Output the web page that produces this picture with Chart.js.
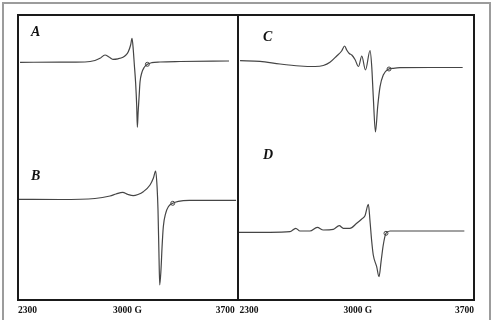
<!DOCTYPE html>
<html>
<head>
<meta charset="utf-8">
<script src="https://cdn.jsdelivr.net/npm/chart.js@4.4.0/dist/chart.umd.min.js"></script>
<style>
  html, body { margin: 0; padding: 0; background: #fff; width: 498px; height: 320px; overflow: hidden; position: relative; }
  .abs { position: absolute; }
  #outer { left: 2px; top: 2px; width: 485px; height: 330px; border: 2px solid #9c9c9c; box-sizing: content-box; }
  #frame { left: 17px; top: 14px; width: 454px; height: 283px; border: 2px solid #1a1a1a; }
  #divider { left: 237px; top: 15px; width: 2px; height: 285px; background: #1a1a1a; }
  .letter { font-family: 'Liberation Serif', serif; font-weight: bold; font-style: italic; font-size: 14px; line-height: 14px; color: #111; }
  canvas { position: absolute; }
</style>
</head>
<body>
<div id="outer" class="abs"></div>
<canvas id="left" width="231" height="304" style="left:12px; top:15px;"></canvas>
<canvas id="right" width="249" height="304" style="left:231px; top:15px;"></canvas>
<div id="frame" class="abs"></div>
<div id="divider" class="abs"></div>
<div class="abs letter" id="lA" style="left:31px; top:25px;"></div>
<div class="abs letter" id="lB" style="left:31px; top:169px;"></div>
<div class="abs letter" id="lC" style="left:263px; top:30px;"></div>
<div class="abs letter" id="lD" style="left:263px; top:148px;"></div>
<script>
// ---- data (field in G, signal in arbitrary units relative to baseline) ----
const panelLetters = ['A', 'B', 'C', 'D'];
const tickValues = [2300, 3000, 3700];
const leftTickLabels = ['2300', '3000 G', '3700 '];
const rightTickLabels = [' 2300', '  3000 G', '3700'];

const fieldA = [2313,2569,2728,2792,2824,2856,2882,2907,2939,2971,2990,3005,3020,3029,3037,3043,3052,3059,3063,3068,3074,3080,3091,3106,3127,3155,3208,3336,3649];
const signalA = [-0.3,-0.2,0,1.5,3.7,7,5,2.7,3.2,4.7,7,10.3,17,23.7,12,-1.3,-21,-44.5,-65.3,-50,-35,-20,-11,-5.5,-2.3,-0.7,0,0.5,1];

const fieldB = [2306,2569,2792,2888,2927,2969,3003,3037,3067,3101,3144,3165,3180,3189,3195,3201,3206,3214,3221,3229,3244,3261,3289,3325,3395,3694];
const signalB = [0.2,0,1,3.5,5.5,7.2,5,3.8,5,7.8,14.5,21.2,28.5,12.8,-10.5,-53.8,-85.5,-70.5,-47.2,-27.2,-13.8,-7.2,-3.8,-1.8,-0.8,-0.8];

const fieldC = [2318,2436,2554,2672,2761,2810,2849,2889,2918,2936,2948,2963,2978,2997,3018,3037,3059,3086,3096,3105,3118,3131,3145,3164,3194,3223,3263,3440,3633];
const signalC = [5.3,4.7,2,0,-0.5,0.5,3.7,10,15,20,16,12.5,11,6.5,-0.5,10,-4,15.5,-0.7,-30.7,-66,-40.7,-20.7,-9,-3.3,-2.3,-1.7,-1.5,-1.5];

const fieldD = [2306,2495,2613,2647,2672,2731,2774,2810,2869,2904,2928,2967,3007,3037,3056,3076,3086,3096,3105,3125,3139,3151,3164,3180,3204,3263,3643];
const signalD = [-0.3,-0.3,0.3,3.7,1,1,4.7,2,2.7,6.3,3.7,3.7,8.7,13,16.3,27.7,10.3,-9.7,-23,-34.7,-44.7,-29.7,-13,-1.3,1,1,1];

// small circles marked on each trace (A, B, C, D)
const markerField = [3127, 3289, 3198, 3180];
const markerSignal = [-2.3, -3.8, -3, -1.3];

// ---- helpers ----
const toXY = (xs, ys) => xs.map((x, i) => ({ x: x, y: ys[i] }));
const lineColor = '#454545';

function traceDS(xs, ys, axis) {
  return {
    data: toXY(xs, ys), yAxisID: axis,
    borderColor: lineColor, borderWidth: 1.2, pointRadius: 0,
    cubicInterpolationMode: 'monotone', fill: false
  };
}
function markerDS(i, axis) {
  return {
    data: [{ x: markerField[i], y: markerSignal[i] }], yAxisID: axis,
    showLine: false, pointRadius: 2, pointBorderWidth: 1,
    pointBorderColor: '#444', pointBackgroundColor: '#fff'
  };
}
function xScale(labels) {
  return {
    type: 'linear', min: 2300, max: 3700,
    grid: { display: false, drawTicks: false, tickLength: 0 }, border: { display: false },
    afterBuildTicks: (axis) => { axis.ticks = tickValues.map(v => ({ value: v })); },
    afterFit: (scale) => { scale.height = 20; },
    ticks: {
      callback: (v, i) => labels[i],
      align: 'inner', padding: 6, maxRotation: 0, autoSkip: false,
      color: '#111', font: { family: 'Liberation Serif', size: 9.5, weight: 'bold' }
    }
  };
}
function makeChart(id, labels, datasets, yScales) {
  const scales = { x: xScale(labels) };
  for (const k in yScales) scales[k] = Object.assign({ display: false }, yScales[k]);
  new Chart(document.getElementById(id), {
    type: 'line',
    data: { datasets: datasets },
    options: {
      responsive: false, animation: false,
      layout: { padding: 0, autoPadding: false },
      plugins: { legend: { display: false }, tooltip: { enabled: false } },
      scales: scales
    }
  });
}

makeChart('left', leftTickLabels,
  [traceDS(fieldA, signalA, 'yA'), traceDS(fieldB, signalB, 'yB'), markerDS(0, 'yA'), markerDS(1, 'yB')],
  { yA: { min: -237, max: 47 }, yB: { min: -99.5, max: 184.5 } });

makeChart('right', rightTickLabels,
  [traceDS(fieldC, signalC, 'yC'), traceDS(fieldD, signalD, 'yD'), markerDS(2, 'yC'), markerDS(3, 'yD')],
  { yC: { min: -233, max: 51 }, yD: { min: -67, max: 217 } });

['lA', 'lB', 'lC', 'lD'].forEach((id, i) => { document.getElementById(id).textContent = panelLetters[i]; });
</script>
</body>
</html>
